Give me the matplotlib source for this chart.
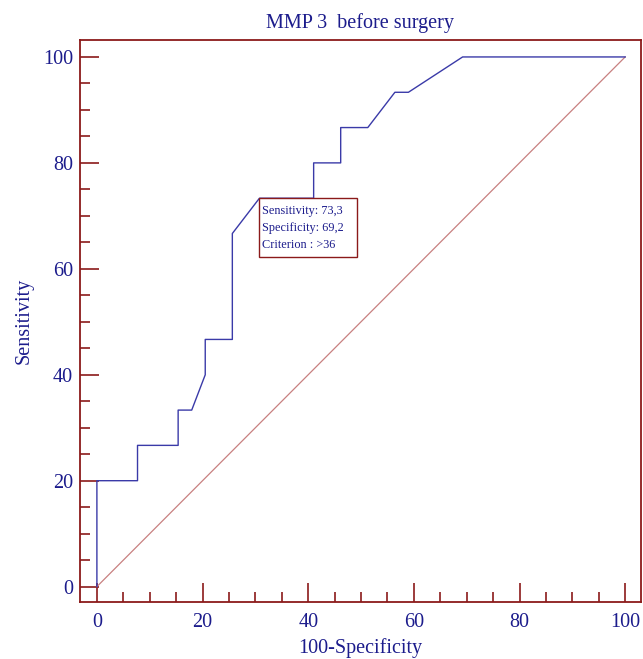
import matplotlib
matplotlib.use('Agg')
import matplotlib.pyplot as plt
from matplotlib.patches import Rectangle
from matplotlib.ticker import MultipleLocator

# ROC curve points (100-Specificity, Sensitivity)
fpr = [0, 0, 7.69, 7.69, 15.38, 15.38, 17.95, 20.51, 20.51, 25.64, 25.64,
       30.77, 41.03, 41.03, 46.15, 46.15, 51.28, 56.41, 58.97, 69.23, 100]
tpr = [0, 20, 20, 26.67, 26.67, 33.33, 33.33, 40, 46.67, 46.67, 66.67,
       73.33, 73.33, 80, 80, 86.67, 86.67, 93.33, 93.33, 100, 100]
ref_line = [0, 100]
best_pt = (30.77, 73.33)
box_text = "Sensitivity: 73,3\nSpecificity: 69,2\nCriterion : >36"

navy = '#1c1c8c'
frame = '#8b1a1a'

plt.rcParams['font.family'] = ['Liberation Serif', 'DejaVu Serif']

fig = plt.figure(figsize=(6.43, 6.59), dpi=100)
ax = fig.add_axes([0.1244, 0.0865, 0.8725, 0.8528])

ax.plot(ref_line, ref_line, color='#c88080', lw=0.9)
ax.plot(fpr, tpr, color='#3a3aa8', lw=1.0)

ax.set_xlim(-3.2, 103.0)
ax.set_ylim(-2.9, 103.2)

ax.xaxis.set_major_locator(MultipleLocator(20))
ax.xaxis.set_minor_locator(MultipleLocator(5))
ax.yaxis.set_major_locator(MultipleLocator(20))
ax.yaxis.set_minor_locator(MultipleLocator(5))
ax.tick_params(which='major', direction='in', length=14, width=1.2, color=frame,
               labelcolor=navy, labelsize=14.5)
ax.tick_params(which='minor', direction='in', length=7.5, width=1.2, color=frame)
ax.tick_params(axis='x', which='major', pad=8)
ax.tick_params(axis='y', which='major', pad=5)

for s in ax.spines.values():
    s.set_color(frame)
    s.set_linewidth(1.3)

ax.set_title('MMP 3  before surgery', color=navy, fontsize=14.5, pad=9)
ax.set_xlabel('100-Specificity', color=navy, fontsize=14.5, labelpad=4)
ax.set_ylabel('Sensitivity', color=navy, fontsize=14.5, labelpad=7)

# info box anchored at the best cut-off point
ax.add_patch(Rectangle((best_pt[0], best_pt[1] - 11.1), 18.5, 11.1,
                       fc='white', ec=frame, lw=1.0, zorder=3))
ax.text(best_pt[0] + 0.55, best_pt[1] - 1.3, box_text, color=navy, fontsize=8.8,
        va='top', ha='left', linespacing=1.55, zorder=4)

fig.savefig('out.png', dpi=100)
